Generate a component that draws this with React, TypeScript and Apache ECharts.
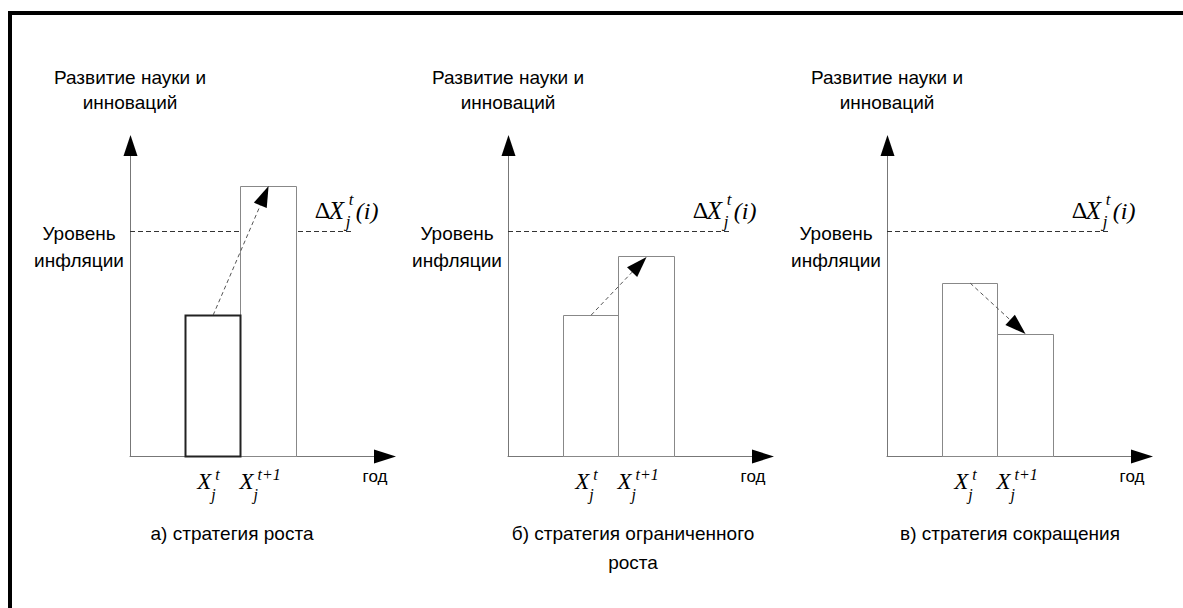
import React, { useEffect, useRef } from 'react';
import * as echarts from 'echarts';

// ---------- data ----------
const panelCaptions = [
  'а) стратегия роста',
  'б) стратегия ограниченного\nроста',
  'в) стратегия сокращения',
];
const yAxisTitle = 'Развитие науки и\nинноваций';
const xAxisTitle = 'год';
const inflationTitle = 'Уровень\nинфляции';
const barSlots = [1, 2]; // start of each bar on the x scale (bar width = 1)
const barLabelBase = 'X';
const barLabelSup = ['t', 't+1'];
const barLabelSub = 'j';
const growthValues = [45.3, 86.8];
const limitedGrowthValues = [45.3, 64.0];
const reductionValues = [55.6, 39.2];
const panelValues = [growthValues, limitedGrowthValues, reductionValues];
const inflationLevel = 72.3;
const inflationLineEnd = 4;
const deltaBase = 'X';
const deltaSup = 't';
const deltaSub = 'j';
const deltaTail = '(i)';
const xMax = 4.6;
const yMax = 100;

// ---------- layout / style ----------
const SANS = "'Liberation Sans', Arial, sans-serif";
const SERIF = "'Liberation Serif', 'Times New Roman', serif";
const gridLefts = [130, 508, 887];
const captionCenters = [232, 633, 1010];
const GRID_TOP = 145;
const GRID_H = 311;
const GRID_W = 255;
const AXIS_COLOR = '#777';
const labelShift = [-16, -29];

function crisp(v: number) {
  return Math.round(v - 0.5) + 0.5;
}

function txt(text: string, x: number, y: number, size: number, opts: any = {}) {
  return {
    type: 'text',
    x,
    y,
    z2: 40,
    style: {
      text,
      fontFamily: opts.family || SERIF,
      fontStyle: opts.italic === false ? 'normal' : 'italic',
      fontSize: size,
      lineHeight: opts.lineHeight,
      fill: '#000',
      align: opts.align || 'left',
      verticalAlign: 'middle',
    },
  };
}

function makeBarsRender(panel: number) {
  return (params: any, api: any) => {
    const idx = params.dataIndex;
    const x0 = api.value(0);
    const v = api.value(1);
    const p0 = api.coord([x0, 0]);
    const p1 = api.coord([x0 + 1, v]);
    const bold = panel === 0 && idx === 0;
    const left = crisp(p0[0]);
    const right = crisp(p1[0]);
    const top = crisp(p1[1]);
    const bottom = crisp(p0[1]);
    const cx = (p0[0] + p1[0]) / 2;
    const lx = cx + labelShift[idx];
    const by = p0[1];
    return {
      type: 'group',
      children: [
        {
          type: 'rect',
          z2: bold ? 20 : 10,
          shape: { x: left, y: top, width: right - left, height: bottom - top },
          style: { fill: '#fff', stroke: bold ? '#222' : '#888', lineWidth: bold ? 2 : 1 },
        },
        txt(barLabelBase, lx, by + 25, 23),
        txt(barLabelSup[idx], lx + 18, by + 18, 16),
        txt(barLabelSub, lx + 14, by + 38, 16),
      ],
    };
  };
}

function renderArrow(params: any, api: any) {
  const a = api.coord([api.value(0), api.value(1)]);
  const b = api.coord([api.value(2), api.value(3)]);
  const dx = b[0] - a[0];
  const dy = b[1] - a[1];
  const len = Math.hypot(dx, dy);
  const ux = dx / len;
  const uy = dy / len;
  const L = 21;
  const W = 7;
  const base = [b[0] - ux * L, b[1] - uy * L];
  const pl = [base[0] - uy * W, base[1] + ux * W];
  const pr = [base[0] + uy * W, base[1] - ux * W];
  return {
    type: 'group',
    children: [
      {
        type: 'line',
        z2: 30,
        shape: { x1: a[0], y1: a[1], x2: base[0], y2: base[1] },
        style: { stroke: '#555', lineWidth: 1, lineDash: [4, 3] },
      },
      {
        type: 'polygon',
        z2: 30,
        shape: { points: [b, pl, pr] },
        style: { fill: '#000' },
      },
    ],
  };
}

function renderInflation(params: any, api: any) {
  const s = api.coord([0, api.value(1)]);
  const e = api.coord([api.value(2), api.value(1)]);
  const y = crisp(s[1]);
  const ex = e[0];
  return {
    type: 'group',
    children: [
      {
        type: 'line',
        z2: 5,
        shape: { x1: s[0], y1: y, x2: ex, y2: y },
        style: { stroke: '#333', lineWidth: 1, lineDash: [5, 3] },
      },
      txt(inflationTitle, s[0] - 51, s[1] + 16, 19, {
        family: SANS,
        italic: false,
        align: 'center',
        lineHeight: 27,
      }),
      txt('Δ', ex - 37, s[1] - 21, 24, { italic: false }),
      txt(deltaBase, ex - 23, s[1] - 21, 25),
      txt(deltaSup, ex - 3, s[1] - 32, 17),
      txt(deltaSub, ex - 6, s[1] - 10, 17),
      txt(deltaTail, ex + 4, s[1] - 20, 24),
    ],
  };
}

function renderAxisArrows(params: any, api: any) {
  const o = api.coord([0, 0]);
  const xe = api.coord([api.value(0), 0]);
  const ye = api.coord([0, api.value(1)]);
  const ox = crisp(o[0]);
  const oy = crisp(o[1]);
  return {
    type: 'group',
    children: [
      {
        type: 'polygon',
        shape: {
          points: [
            [xe[0] + 11, oy],
            [xe[0] - 11, oy - 7],
            [xe[0] - 11, oy + 7],
          ],
        },
        style: { fill: '#000' },
      },
      {
        type: 'polygon',
        shape: {
          points: [
            [ox, ye[1] - 10],
            [ox - 7, ye[1] + 11],
            [ox + 7, ye[1] + 11],
          ],
        },
        style: { fill: '#000' },
      },
      txt(xAxisTitle, xe[0] - 10, oy + 20, 17, { family: SANS, italic: false, align: 'center' }),
    ],
  };
}

function buildOption() {
  const grids: any[] = [];
  const xAxes: any[] = [];
  const yAxes: any[] = [];
  const series: any[] = [];
  const titles: any[] = [];

  panelValues.forEach((vals, i) => {
    grids.push({ left: gridLefts[i], top: GRID_TOP, width: GRID_W, height: GRID_H, containLabel: false });
    xAxes.push({
      type: 'value',
      gridIndex: i,
      min: 0,
      max: xMax,
      axisLine: { show: true, lineStyle: { color: AXIS_COLOR, width: 1 } },
      axisTick: { show: false },
      axisLabel: { show: false },
      splitLine: { show: false },
    });
    yAxes.push({
      type: 'value',
      gridIndex: i,
      min: 0,
      max: yMax,
      axisLine: { show: true, lineStyle: { color: AXIS_COLOR, width: 1 } },
      axisTick: { show: false },
      axisLabel: { show: false },
      splitLine: { show: false },
      name: yAxisTitle,
      nameLocation: 'end',
      nameGap: 30,
      nameTextStyle: {
        fontFamily: SANS,
        fontSize: 19,
        lineHeight: 25,
        color: '#000',
        align: 'center',
        verticalAlign: 'bottom',
      },
    });
    series.push({
      type: 'custom',
      name: 'inflation' + i,
      xAxisIndex: i,
      yAxisIndex: i,
      clip: false,
      renderItem: renderInflation,
      data: [[0, inflationLevel, inflationLineEnd]],
      z: 1,
    });
    series.push({
      type: 'custom',
      name: 'bars' + i,
      xAxisIndex: i,
      yAxisIndex: i,
      clip: false,
      renderItem: makeBarsRender(i),
      data: barSlots.map((s, k) => [s, vals[k]]),
      z: 2,
    });
    series.push({
      type: 'custom',
      name: 'change' + i,
      xAxisIndex: i,
      yAxisIndex: i,
      clip: false,
      renderItem: renderArrow,
      data: [[barSlots[0] + 0.5, vals[0], barSlots[1] + 0.5, vals[1]]],
      z: 3,
    });
    series.push({
      type: 'custom',
      name: 'axes' + i,
      xAxisIndex: i,
      yAxisIndex: i,
      clip: false,
      renderItem: renderAxisArrows,
      data: [[xMax, yMax]],
      z: 4,
    });
    titles.push({
      text: panelCaptions[i],
      left: captionCenters[i],
      top: 519,
      textAlign: 'center',
      padding: 0,
      textStyle: {
        fontFamily: SANS,
        fontSize: 19,
        fontWeight: 'normal',
        color: '#000',
        lineHeight: 29,
      },
    });
  });

  return {
    animation: false,
    backgroundColor: '#fff',
    title: titles,
    grid: grids,
    xAxis: xAxes,
    yAxis: yAxes,
    series,
    graphic: [
      {
        type: 'rect',
        silent: true,
        shape: { x: 10, y: 13, width: 1400, height: 900 },
        style: { fill: 'none', stroke: '#000', lineWidth: 4 },
        z: 100,
      },
    ],
  };
}

export default function App() {
  const ref = useRef<HTMLDivElement>(null);
  useEffect(() => {
    if (!ref.current) return;
    const chart = echarts.init(ref.current, undefined, { renderer: 'svg' });
    chart.setOption(buildOption() as any);
    return () => chart.dispose();
  }, []);
  return (
    <div
      ref={ref}
      style={{ position: 'fixed', left: 0, top: 0, width: 1183, height: 608, background: '#fff' }}
    />
  );
}
